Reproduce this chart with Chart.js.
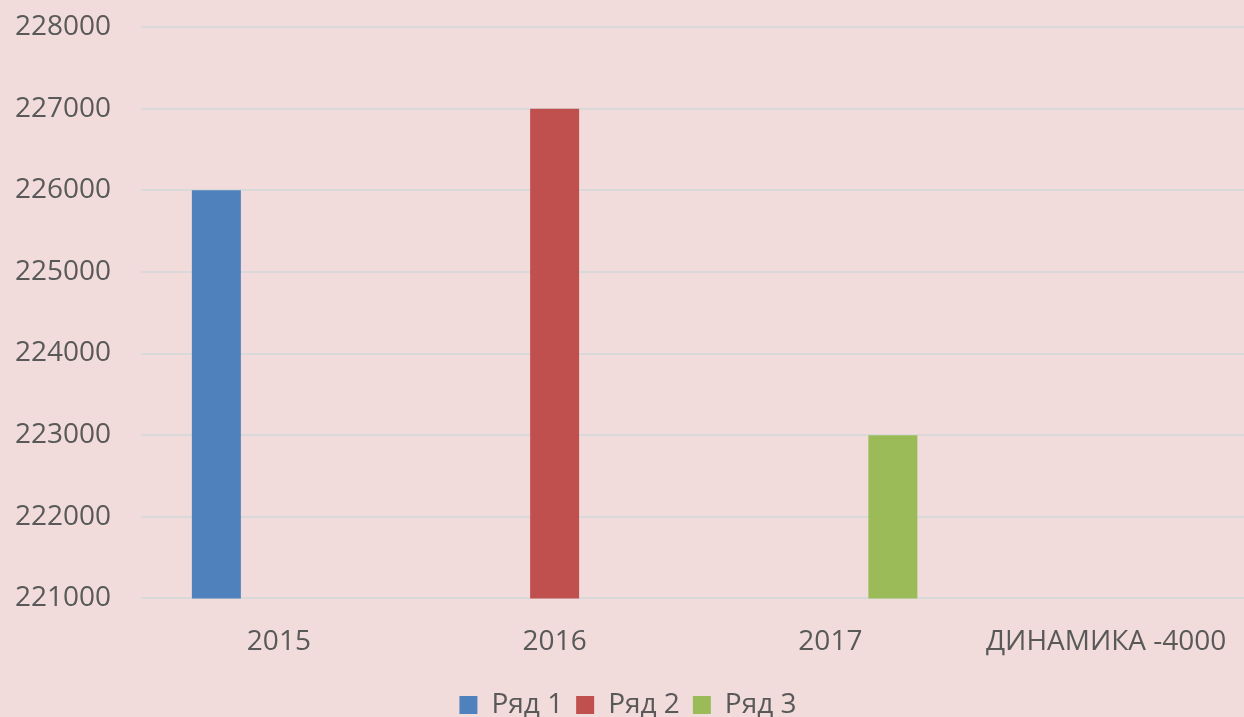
<!DOCTYPE html>
<html>
<head>
<meta charset="utf-8">
<script src="https://cdn.jsdelivr.net/npm/chart.js@4"></script>
<style>
  html, body { margin: 0; padding: 0; background: #f2dcdb; }
  #wrap { width: 1244px; height: 717px; }
</style>
</head>
<body>
<div id="wrap"><canvas id="grafico"></canvas></div>
<script>
const categories = ['2015', '2016', '2017', 'ДИНАМИКА -4000'];
const ryad1 = [226000, null, null, null];
const ryad2 = [null, 227000, null, null];
const ryad3 = [null, null, 223000, null];

const ctx = document.getElementById('grafico').getContext('2d');
Chart.defaults.font.family = '"Open Sans", "Noto Sans", sans-serif';
Chart.defaults.color = '#595959';

const grafico = new Chart(ctx, {
  type: 'bar',
  data: {
    labels: categories,
    datasets: [
      { label: 'Ряд 1', data: ryad1, backgroundColor: '#4f81bd' },
      { label: 'Ряд 2', data: ryad2, backgroundColor: '#c0504d' },
      { label: 'Ряд 3', data: ryad3, backgroundColor: '#9bbb59' }
    ]
  },
  options: {
    responsive: true,
    maintainAspectRatio: false,
    animation: false,
    layout: { padding: { top: 27, right: 0, left: 12, bottom: -12 } },
    datasets: {
      bar: { barPercentage: 0.784, categoryPercentage: 0.68 }
    },
    scales: {
      x: {
        grid: { display: false },
        border: { display: false },
        ticks: { font: { size: 28 }, padding: 19, maxRotation: 0 },
        afterFit: function (scale) {
          scale.paddingLeft = 0;
          scale.paddingRight = 0;
        }
      },
      y: {
        min: 221000,
        max: 228000,
        grid: { color: '#d9d9d9', lineWidth: 2, drawTicks: false },
        border: { display: false },
        ticks: {
          stepSize: 1000,
          font: { size: 28 },
          padding: 30,
          callback: v => String(v)
        },
        afterFit: function (scale) {
          scale.width = 129;
          scale.paddingTop = 0;
          scale.paddingBottom = 0;
        }
      }
    },
    plugins: {
      tooltip: { enabled: false },
      legend: {
        position: 'bottom',
        labels: { boxWidth: 18, boxHeight: 18, font: { size: 28 }, padding: 13 }
      }
    }
  }
});
</script>
</body>
</html>
